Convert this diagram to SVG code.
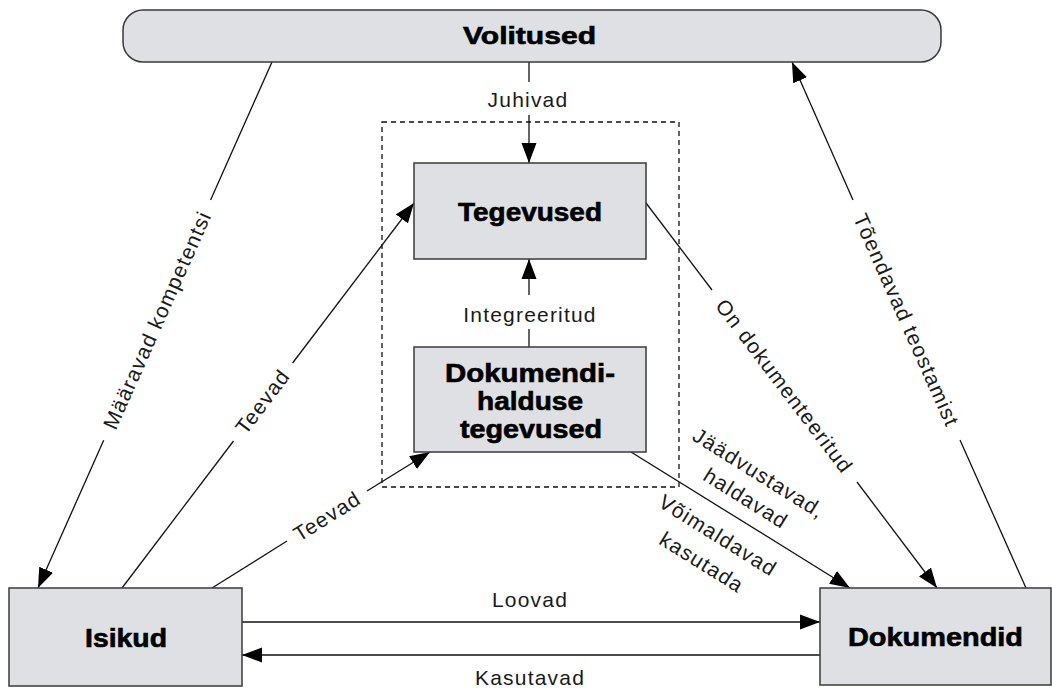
<svg xmlns="http://www.w3.org/2000/svg" width="1052" height="689" viewBox="0 0 1052 689">
<defs>
<style>
.box{fill:#dfe0e4;stroke:#3a3a3a;stroke-width:1.5}
.bt{font-family:"Liberation Sans",Arial,sans-serif;font-weight:bold;font-size:25px;fill:#000;stroke:#000;stroke-width:0.6;text-anchor:middle}
.lb{font-family:"Liberation Sans",Arial,sans-serif;font-size:21px;fill:#1a1a1a;letter-spacing:1.2px;text-anchor:middle}
.c{stroke:#111;stroke-width:1.3;fill:none}
.ca{stroke:#111;stroke-width:1.3;fill:none;marker-end:url(#ah)}
.dash{fill:none;stroke:#111;stroke-width:1.3;stroke-dasharray:5 4}
</style>
<marker id="ah" markerUnits="userSpaceOnUse" markerWidth="20" markerHeight="16" refX="20" refY="8" orient="auto" viewBox="0 0 20 16">
<path d="M0,0.5 L20,8 L0,15.5 z" fill="#000"/>
</marker>
</defs>
<rect width="1052" height="689" fill="#fff"/>
<rect id="scope" class="dash" x="382" y="122" width="297" height="365"/>

<g id="connectors">
<line class="c" x1="272" y1="62" x2="210.6" y2="200"/>
<line class="ca" x1="103.7" y1="440.3" x2="38" y2="588"/>
<line class="c" x1="122" y1="588" x2="233.5" y2="441"/>
<line class="ca" x1="292.6" y1="363" x2="414" y2="203"/>
<line class="c" x1="212" y1="588" x2="287" y2="541"/>
<line class="ca" x1="367" y1="491" x2="430" y2="452"/>
<line class="c" x1="529" y1="62" x2="529" y2="82"/>
<line class="ca" x1="529" y1="115" x2="529" y2="163"/>
<line class="c" x1="529" y1="347" x2="529" y2="329"/>
<line class="ca" x1="529" y1="295" x2="529" y2="259"/>
<line class="c" x1="646" y1="203" x2="712" y2="290"/>
<line class="ca" x1="857" y1="482" x2="937" y2="588"/>
<line class="c" x1="1026" y1="588" x2="960" y2="440"/>
<line class="ca" x1="853" y1="200" x2="792" y2="62"/>
<line class="ca" x1="631" y1="452" x2="850" y2="588"/>
<line class="ca" x1="242" y1="622" x2="820" y2="622" style="stroke-width:1.6"/>
<line class="ca" x1="820" y1="655" x2="242" y2="655" style="stroke-width:1.6"/>

<text class="lb" x="528" y="107">Juhivad</text>
<text class="lb" x="530" y="322">Integreeritud</text>
<text class="lb" x="530" y="607">Loovad</text>
<text class="lb" x="530" y="685">Kasutavad</text>
<text class="lb" transform="translate(157,320) rotate(-66)" y="7.5">Määravad kompetentsi</text>
<text class="lb" transform="translate(262.5,401.5) rotate(-52.8)" y="7.5">Teevad</text>
<text class="lb" transform="translate(327,516) rotate(-32)" y="7.5">Teevad</text>
<text class="lb" transform="translate(784.5,386) rotate(52.9)" y="7.5">On dokumenteeritud</text>
<text class="lb" transform="translate(906.6,320) rotate(66)" y="7.5">Tõendavad teostamist</text>
<text class="lb" transform="translate(759,473) rotate(32)" y="7.5">Jäädvustavad,</text>
<text class="lb" transform="translate(746,498) rotate(32)" y="7.5">haldavad</text>
<text class="lb" transform="translate(718,535) rotate(32)" y="7.5">Võimaldavad</text>
<text class="lb" transform="translate(702,562) rotate(32)" y="7.5">kasutada</text>
</g>

<g id="volitused">
<rect class="box" x="123" y="10" width="818" height="52" rx="20" ry="20"/>
<text class="bt" x="529.5" y="44" style="font-size:23px" textLength="133" lengthAdjust="spacingAndGlyphs">Volitused</text>
</g>
<g id="tegevused">
<rect class="box" x="414" y="163" width="232" height="96"/>
<text class="bt" x="530" y="221" textLength="144" lengthAdjust="spacingAndGlyphs">Tegevused</text>
</g>
<g id="dokumendihalduse">
<rect class="box" x="414" y="347" width="232" height="105"/>
<text class="bt" x="530" y="382" textLength="170" lengthAdjust="spacingAndGlyphs">Dokumendi-</text>
<text class="bt" x="530" y="410" textLength="106" lengthAdjust="spacingAndGlyphs">halduse</text>
<text class="bt" x="531" y="438" textLength="142" lengthAdjust="spacingAndGlyphs">tegevused</text>
</g>
<g id="isikud">
<rect class="box" x="9" y="588" width="233" height="98"/>
<text class="bt" x="126" y="647" textLength="82" lengthAdjust="spacingAndGlyphs">Isikud</text>
</g>
<g id="dokumendid">
<rect class="box" x="820" y="588" width="231" height="97"/>
<text class="bt" x="935.5" y="646" textLength="175" lengthAdjust="spacingAndGlyphs">Dokumendid</text>
</g>
</svg>
